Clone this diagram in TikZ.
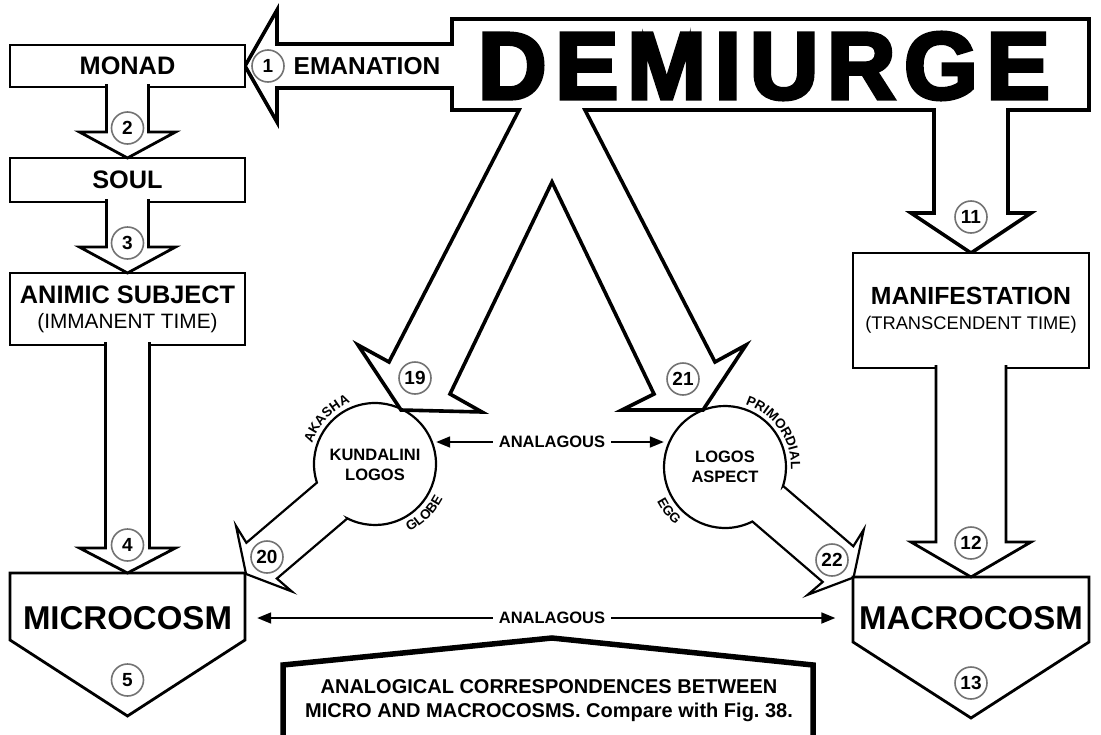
\documentclass[tikz,border=0pt]{standalone}
\usepackage{fontspec}
\setmainfont{Liberation Sans}
\newfontfamily\demifam[FakeBold=4]{Liberation Sans Bold}
\usetikzlibrary{arrows.meta,calc,decorations.text}
\newcommand{\fsz}[1]{\fontsize{#1}{#1}\selectfont}
\newcommand{\vblock}[5]{%
  \draw[blk,fill=white] ($(#1)+(-#3,-3)$) -- ($(#2)+(-#3,-#5)$) -- ($(#2)+(-#4,-#5)$) -- (#2)
    -- ($(#2)+(#4,-#5)$) -- ($(#2)+(#3,-#5)$) -- ($(#1)+(#3,-3)$);}
\frenchspacing

\begin{document}
\begin{tikzpicture}[x=1pt,y=-1pt,
  blk/.style={line width=2.8pt,line join=miter},
  big/.style={line width=3.6pt,line join=miter},
  bx/.style={draw,line width=2.8pt,fill=white,inner sep=0pt,outer sep=0pt,align=center,font=\fsz{25.3}\bfseries},
  num/.style={circle,draw=black!55,line width=1.6pt,fill=white,minimum size=32pt,inner sep=0pt,font=\fsz{19}\bfseries},
  cosm/.style={font=\fsz{33}\bfseries,minimum width=235pt,inner sep=0pt},
  orb/.style={circle,minimum size=122pt,inner sep=0pt,align=center,font=\fontsize{16.5}{20}\selectfont\bfseries},
  ana/.style={font=\fsz{16.5}\bfseries,inner sep=6pt},
  conn/.style={-{Triangle[length=14pt,width=11pt]},line width=1.8pt},
  arclab/.style={decorate,decoration={text along path,text align=center,text={|\fsz{13.5}\bfseries|#1}}},
  orbarrow/.pic={\draw[line width=2.2pt,fill=white,line join=miter] (56.3,-23.5) -- (149,-23.5) -- (146,-43) -- (169.5,0)
    -- (146,43) -- (149,23.5) -- (56.3,23.5) arc[start angle=22.66,end angle=337.34,radius=61] -- cycle;}
]
  \fill[white] (0,0) rectangle (1101,734);
  \useasboundingbox (0,0) rectangle (1101,734);

  \pic[rotate=220.45] at (375,464) {orbarrow};
  \pic[rotate=-40.67] at (725,467) {orbarrow};

  \draw[big,fill=white] (245,66) -- (277,10) -- (277,44) -- (452,44) -- (452,19) -- (1089,19) -- (1089,110)
    -- (1008,110) -- (1008,213) -- (1031,213) -- (971,253) -- (911,213) -- (934,213) -- (934,110)
    -- (585,110) -- (715,362) -- (746,345) -- (703,410) -- (622,410) -- (654,394) -- (552,182)
    -- (450,394) -- (482,412) -- (401,410) -- (358,345) -- (389,362) -- (519,110)
    -- (452,110) -- (452,88) -- (277,88) -- (277,122) -- cycle;

  \node[bx,minimum width=235pt,minimum height=42pt] (monad) at (127.5,66) {MONAD};
  \node[bx,minimum width=235pt,minimum height=44pt] (soul) at (127.5,180) {SOUL};
  \node[bx,minimum width=235pt,minimum height=72pt] (animic) at (127.5,309) {ANIMIC SUBJECT\\{\fsz{20.8}\mdseries (IMMANENT TIME)}};
  \node[bx,minimum width=236pt,minimum height=115pt,font=\fontsize{24.8}{25}\selectfont\bfseries] (manif) at (971,310.5) {MANIFESTATION\\{\fsz{18.3}\mdseries (TRANSCENDENT TIME)}};

  \coordinate (mictop) at (127.5,573);
  \coordinate (mactop) at (971,577);
  \draw[blk,fill=white] (10,573) -- (245,573) -- (245,640) -- (127.5,716) -- (10,640) -- cycle;
  \draw[blk,fill=white] (853,577) -- (1089,577) -- (1089,642) -- (971,718) -- (853,642) -- cycle;

  \vblock{monad.south}{soul.north}{21}{48}{26}
  \vblock{soul.south}{animic.north}{21}{48}{26}
  \vblock{animic.south}{mictop}{22}{48}{25}
  \vblock{manif.south}{mactop}{35}{60}{35}

  \node[font=\fsz{24.5}\bfseries] (eman) at (367,66) {EMANATION};
  \node[font=\demifam\fsz{95},inner sep=0pt] (demi) at (764,66) {\makebox[572pt]{D\hfill E\hfill M\hfill I\hfill U\hfill R\hfill G\hfill E}};
  \node[cosm] (mic) at (127.5,618) {MICROCOSM};
  \node[cosm] (mac) at (971,618) {MACROCOSM};
  \node[orb] (kl) at (375,465) {KUNDALINI\\LOGOS};
  \node[orb] (la) at (725,467) {LOGOS\\ASPECT};

  \node[ana] (ana1) at (552,442) {ANALAGOUS};
  \draw[conn] (ana1) -- (ana1 -| kl.east);
  \draw[conn] (ana1) -- (ana1 -| la.west);
  \node[ana] (ana2) at (552,618) {ANALAGOUS};
  \draw[conn,shorten >=12pt] (ana2) -- (mic);
  \draw[conn,shorten >=18pt] (ana2) -- (mac);

  \path[arclab=AKASHA] (375,464) ++(-168:66) arc[start angle=-168,end angle=-106,radius=66];
  \path[arclab=GLOBE] (375,464) ++(66:76) arc[start angle=66,end angle=24,radius=76];
  \path[arclab=PRIMORDIAL] (725,467) ++(-76:66) arc[start angle=-76,end angle=6,radius=66];
  \path[arclab=EGG] (725,467) ++(-198:76) arc[start angle=-198,end angle=-238,radius=76];

  \node[num] (n1) at (268,66) {1};
  \node[num] (n2) at (127.5,128) {2};
  \node[num] (n3) at (127.5,243) {3};
  \node[num] (n4) at (127.5,545) {4};
  \node[num] (n5) at (127.5,680) {5};
  \node[num] (n11) at (971,217) {11};
  \node[num] (n12) at (971,543) {12};
  \node[num] (n13) at (971,683) {13};
  \node[num] (n19) at (415,378) {19};
  \node[num] (n20) at (267,557) {20};
  \node[num] (n21) at (683,379) {21};
  \node[num] (n22) at (832,560) {22};

  \draw[line width=5.5pt,fill=white] (283,745) -- (283,665) -- (552,638) -- (813,665) -- (813,745);
  \node[font=\fontsize{20}{24}\selectfont\bfseries,align=center] (cap) at (549,701) {ANALOGICAL CORRESPONDENCES BETWEEN\\MICRO AND MACROCOSMS. Compare with Fig.~38.};
\end{tikzpicture}
\end{document}
